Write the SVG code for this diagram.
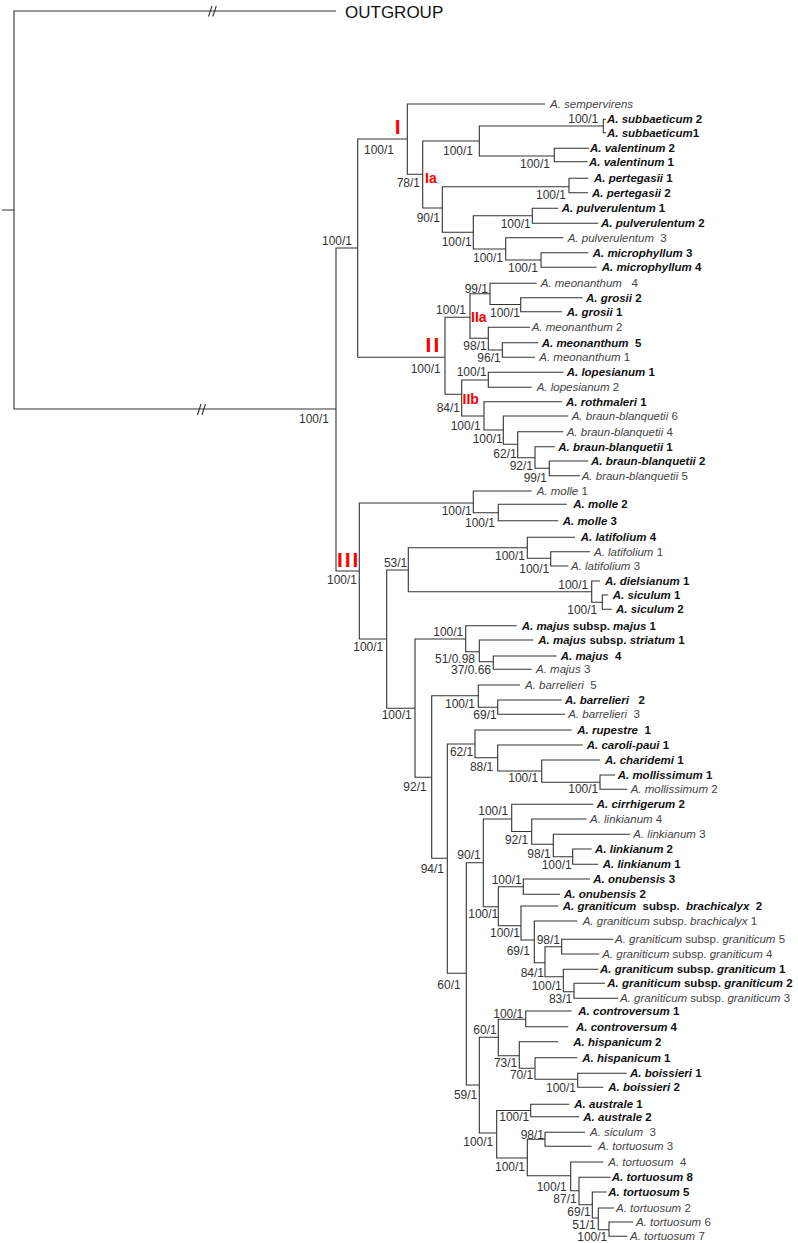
<svg xmlns="http://www.w3.org/2000/svg" width="798" height="1243" viewBox="0 0 798 1243">
<style>
text{font-family:"Liberation Sans",Arial,sans-serif;white-space:pre}
.r{font-size:11.5px;fill:#444}
.b{font-size:11.5px;fill:#111;font-weight:bold}
.i{font-style:italic}
.s{font-size:12px;fill:#333;text-anchor:end}
.red{fill:#ff0000;font-weight:bold}
.br{fill:none;stroke:#333;stroke-width:1.1}
</style>
<rect width="798" height="1243" fill="#fff"/>
<g id="connectors" class="br">
<path d="M2,210 H14 M336,11 H14 V409 H336"/>
<path d="M208.5,16.5 L212,6 M212.8,16.5 L216.3,6 M197.5,415 L201,404 M202,415 L205.5,404"/>
<path d="M357.7,248 H336 V571 H359.3"/>
<path d="M407.3,139 H357.7 V357.3 H445"/>
<path d="M545,104 H407.3 V174.3 H422.7"/>
<path d="M479.3,141 H422.7 V208 H442.3"/>
<path d="M603.3,126 H479.3 V156 H554.3"/>
<path d="M606,119.3 H603.3 V132.7 H606"/>
<path d="M589,148.3 H554.3 V161.7 H587.7"/>
<path d="M569,186.7 H442.3 V232.3 H473.3"/>
<path d="M588.3,178.3 H569 V192.7 H588"/>
<path d="M532.3,215.7 H473.3 V249 H505.7"/>
<path d="M558.3,208.3 H532.3 V223.3 H598.3"/>
<path d="M563.3,237.7 H505.7 V260 H541"/>
<path d="M588.3,252.7 H541 V267.3 H596.7"/>
<path d="M470,317.3 H445 V394.3 H461.7"/>
<path d="M490,293.8 H470 V338.3 H488.3"/>
<path d="M536.7,283.3 H490 V304.5 H520.7"/>
<path d="M582.7,297.7 H520.7 V311.7 H561.7"/>
<path d="M530,327.3 H488.3 V350 H502.3"/>
<path d="M538.3,342.7 H502.3 V357.3 H535"/>
<path d="M488.3,380 H461.7 V416 H484"/>
<path d="M563.3,372.3 H488.3 V387.3 H531.7"/>
<path d="M561.7,401.7 H484 V430 H503.3"/>
<path d="M568.3,416 H503.3 V444.3 H517.7"/>
<path d="M563.3,431.7 H517.7 V457.7 H535"/>
<path d="M555,446.7 H535 V468.3 H549.3"/>
<path d="M588.3,461 H549.3 V475.7 H580"/>
<path d="M473.3,503 H359.3 V639 H386.7"/>
<path d="M531.7,491 H473.3 V512.7 H498.3"/>
<path d="M566.7,504.3 H498.3 V520.7 H558.3"/>
<path d="M408.3,570 H386.7 V708.3 H415"/>
<path d="M527.3,547.7 H408.3 V591.7 H591.7"/>
<path d="M575,537.3 H527.3 V558.3 H550.7"/>
<path d="M590,551.7 H550.7 V566 H568.3"/>
<path d="M600,581 H591.7 V602.3 H602.3"/>
<path d="M608.3,595 H602.3 V609.3 H611.7"/>
<path d="M465.7,639 H415 V777.3 H431.7"/>
<path d="M516.7,625.7 H465.7 V651.7 H479.3"/>
<path d="M533.3,640 H479.3 V661.7 H493.3"/>
<path d="M556.7,656 H493.3 V669.3 H531.7"/>
<path d="M478.3,695.7 H431.7 V858.3 H447.3"/>
<path d="M520,685 H478.3 V707.3 H497.7"/>
<path d="M561.7,700 H497.7 V714.3 H565"/>
<path d="M475,744 H447.3 V973.3 H466.3"/>
<path d="M571.7,730 H475 V757.7 H497.7"/>
<path d="M582.7,745 H497.7 V771 H541.7"/>
<path d="M600,760 H541.7 V782.3 H600"/>
<path d="M615,775 H600 V789.3 H627.3"/>
<path d="M483.3,862.7 H466.3 V1085 H479.3"/>
<path d="M511.7,819 H483.3 V906.7 H498.3"/>
<path d="M593.3,804.3 H511.7 V831.5 H531.7"/>
<path d="M586.7,819 H531.7 V844.3 H553.3"/>
<path d="M630,834.3 H553.3 V856.7 H572.7"/>
<path d="M591.7,849 H572.7 V864.3 H598.3"/>
<path d="M523.3,886.7 H498.3 V925.7 H521"/>
<path d="M590,879 H523.3 V894.3 H560"/>
<path d="M558.3,906 H521 V940 H534.3"/>
<path d="M577.3,921 H534.3 V962.7 H545"/>
<path d="M561.7,946.7 H545 V976.7 H563.3"/>
<path d="M613.3,939.3 H561.7 V954 H599.3"/>
<path d="M598.3,969.3 H563.3 V991.7 H574"/>
<path d="M605,983.3 H574 V998.3 H618.3"/>
<path d="M498.3,1037.3 H479.3 V1133 H496.7"/>
<path d="M525.7,1019.3 H498.3 V1055.7 H519.3"/>
<path d="M571.7,1011 H525.7 V1026.7 H568.3"/>
<path d="M558.3,1041.7 H519.3 V1068.3 H535"/>
<path d="M577.3,1057.7 H535 V1079.3 H577.7"/>
<path d="M626.7,1073.3 H577.7 V1087.3 H603.3"/>
<path d="M530.7,1110.5 H496.7 V1158 H527.3"/>
<path d="M569.3,1104.3 H530.7 V1116.7 H579.3"/>
<path d="M545,1139.3 H527.3 V1175.7 H570.7"/>
<path d="M585,1132.3 H545 V1146.3 H591.7"/>
<path d="M603.3,1162 H570.7 V1190.7 H579"/>
<path d="M610.7,1177.3 H579 V1204.7 H592.3"/>
<path d="M606.7,1192 H592.3 V1218 H598.3"/>
<path d="M614,1208 H598.3 V1229.7 H609"/>
<path d="M633.3,1222 H609 V1236.3 H627.3"/>
</g>
<g id="outgroup"><text x="345" y="18.3" style="font-size:17px;fill:#111">OUTGROUP</text></g>
<g id="clade-labels" class="red">
<text x="394.7" y="134" style="font-size:21px">I</text>
<text x="425" y="183" style="font-size:14px">Ia</text>
<text x="425.4" y="351.7" style="font-size:21px;letter-spacing:2.3px">II</text>
<text x="471" y="321.7" style="font-size:14px">IIa</text>
<text x="462.5" y="404" style="font-size:14px">IIb</text>
<text x="337" y="566.7" style="font-size:21px;letter-spacing:1.9px">III</text>
</g>
<g id="support-values">
<text class="s" x="329" y="423.3">100/1</text>
<text class="s" x="352" y="245.3">100/1</text>
<text class="s" x="394" y="154.3">100/1</text>
<text class="s" x="420" y="187">78/1</text>
<text class="s" x="598.3" y="123">100/1</text>
<text class="s" x="473" y="155">100/1</text>
<text class="s" x="550" y="168.3">100/1</text>
<text class="s" x="566" y="199.3">100/1</text>
<text class="s" x="440" y="222">90/1</text>
<text class="s" x="471.7" y="246">100/1</text>
<text class="s" x="530.7" y="227.6">100/1</text>
<text class="s" x="503" y="262">100/1</text>
<text class="s" x="538" y="271.6">100/1</text>
<text class="s" x="488" y="292.6">99/1</text>
<text class="s" x="520" y="316.6">100/1</text>
<text class="s" x="466" y="314.3">100/1</text>
<text class="s" x="486.7" y="350">98/1</text>
<text class="s" x="500.7" y="361.6">96/1</text>
<text class="s" x="440.7" y="372.6">100/1</text>
<text class="s" x="486.7" y="376">100/1</text>
<text class="s" x="460" y="411.8">84/1</text>
<text class="s" x="480.7" y="430">100/1</text>
<text class="s" x="502.7" y="442.6">100/1</text>
<text class="s" x="516.7" y="457.6">62/1</text>
<text class="s" x="533" y="470">92/1</text>
<text class="s" x="547" y="482">99/1</text>
<text class="s" x="471.7" y="515.3">100/1</text>
<text class="s" x="495" y="526.6">100/1</text>
<text class="s" x="357" y="584.3">100/1</text>
<text class="s" x="407.3" y="567">53/1</text>
<text class="s" x="525" y="560.3">100/1</text>
<text class="s" x="549.3" y="572.6">100/1</text>
<text class="s" x="588.3" y="589.3">100/1</text>
<text class="s" x="597.3" y="613.6">100/1</text>
<text class="s" x="383.3" y="651">100/1</text>
<text class="s" x="463.3" y="636">100/1</text>
<text class="s" x="475" y="662.6">51/0.98</text>
<text class="s" x="491" y="674.3">37/0.66</text>
<text class="s" x="411.7" y="719.3">100/1</text>
<text class="s" x="475" y="707.6">100/1</text>
<text class="s" x="496.7" y="718.6">69/1</text>
<text class="s" x="426.7" y="791">92/1</text>
<text class="s" x="473.3" y="756">62/1</text>
<text class="s" x="493.3" y="771">88/1</text>
<text class="s" x="538.3" y="782">100/1</text>
<text class="s" x="598.3" y="792.6">100/1</text>
<text class="s" x="444" y="872.6">94/1</text>
<text class="s" x="508.3" y="815.3">100/1</text>
<text class="s" x="528.3" y="844.3">92/1</text>
<text class="s" x="550.7" y="857.6">98/1</text>
<text class="s" x="571.7" y="868.6">100/1</text>
<text class="s" x="480.7" y="858.6">90/1</text>
<text class="s" x="521.7" y="884.3">100/1</text>
<text class="s" x="498.3" y="917.6">100/1</text>
<text class="s" x="520" y="937.3">100/1</text>
<text class="s" x="530" y="955">69/1</text>
<text class="s" x="560" y="944.3">98/1</text>
<text class="s" x="544" y="977">84/1</text>
<text class="s" x="561.7" y="990.3">100/1</text>
<text class="s" x="572.3" y="1002.6">83/1</text>
<text class="s" x="460.7" y="988.6">60/1</text>
<text class="s" x="523.3" y="1017.6">100/1</text>
<text class="s" x="496.7" y="1034.3">60/1</text>
<text class="s" x="517.3" y="1067">73/1</text>
<text class="s" x="533.3" y="1079.3">70/1</text>
<text class="s" x="576" y="1091.6">100/1</text>
<text class="s" x="477.3" y="1099.3">59/1</text>
<text class="s" x="529.3" y="1121">100/1</text>
<text class="s" x="493.3" y="1146.3">100/1</text>
<text class="s" x="544" y="1138.6">98/1</text>
<text class="s" x="525" y="1170.6">100/1</text>
<text class="s" x="566.7" y="1190.6">100/1</text>
<text class="s" x="576.7" y="1203.3">87/1</text>
<text class="s" x="590.7" y="1216.3">69/1</text>
<text class="s" x="595.7" y="1229">51/1</text>
<text class="s" x="607.3" y="1240.6">100/1</text>
</g>
<g id="taxon-sempervirens"><text class="r" x="550" y="108"><tspan class="i">A. sempervirens</tspan></text></g>
<g id="taxon-subbaeticum-2"><text class="b" x="607" y="123.3"><tspan class="i">A. subbaeticum</tspan> 2</text></g>
<g id="taxon-subbaeticum-1"><text class="b" x="607" y="136.7"><tspan class="i">A. subbaeticum</tspan>1</text></g>
<g id="taxon-valentinum-2"><text class="b" x="590" y="152.3"><tspan class="i">A. valentinum</tspan> 2</text></g>
<g id="taxon-valentinum-1"><text class="b" x="589" y="165.7"><tspan class="i">A. valentinum</tspan> 1</text></g>
<g id="taxon-pertegasii-1"><text class="b" x="594" y="182.3"><tspan class="i">A. pertegasii</tspan> 1</text></g>
<g id="taxon-pertegasii-2"><text class="b" x="592" y="196.7"><tspan class="i">A. pertegasii</tspan> 2</text></g>
<g id="taxon-pulverulentum-1"><text class="b" x="561.7" y="212.3"><tspan class="i">A. pulverulentum</tspan> 1</text></g>
<g id="taxon-pulverulentum-2"><text class="b" x="601" y="227.3"><tspan class="i">A. pulverulentum</tspan> 2</text></g>
<g id="taxon-pulverulentum-3"><text class="r" x="567.7" y="241.7"><tspan class="i">A. pulverulentum</tspan>  3</text></g>
<g id="taxon-microphyllum-3"><text class="b" x="592.7" y="256.7"><tspan class="i">A. microphyllum</tspan> 3</text></g>
<g id="taxon-microphyllum-4"><text class="b" x="601.7" y="271.3"><tspan class="i">A. microphyllum</tspan> 4</text></g>
<g id="taxon-meonanthum-4"><text class="r" x="540.7" y="287.3"><tspan class="i">A. meonanthum</tspan>   4</text></g>
<g id="taxon-grosii-2"><text class="b" x="586" y="301.7"><tspan class="i">A. grosii</tspan> 2</text></g>
<g id="taxon-grosii-1"><text class="b" x="566.7" y="315.7"><tspan class="i">A. grosii</tspan> 1</text></g>
<g id="taxon-meonanthum-2"><text class="r" x="531.7" y="331.3"><tspan class="i">A. meonanthum</tspan> 2</text></g>
<g id="taxon-meonanthum-5"><text class="b" x="541.7" y="346.7"><tspan class="i">A. meonanthum</tspan>  5</text></g>
<g id="taxon-meonanthum-1"><text class="r" x="539.3" y="361.3"><tspan class="i">A. meonanthum</tspan> 1</text></g>
<g id="taxon-lopesianum-1"><text class="b" x="566.7" y="376.3"><tspan class="i">A. lopesianum</tspan> 1</text></g>
<g id="taxon-lopesianum-2"><text class="r" x="536.7" y="391.3"><tspan class="i">A. lopesianum</tspan> 2</text></g>
<g id="taxon-rothmaleri-1"><text class="b" x="566" y="405.7"><tspan class="i">A. rothmaleri</tspan> 1</text></g>
<g id="taxon-braun-blanquetii-6"><text class="r" x="571.7" y="420"><tspan class="i">A. braun-blanquetii</tspan> 6</text></g>
<g id="taxon-braun-blanquetii-4"><text class="r" x="566.7" y="435.7"><tspan class="i">A. braun-blanquetii</tspan> 4</text></g>
<g id="taxon-braun-blanquetii-1"><text class="b" x="558.3" y="450.7"><tspan class="i">A. braun-blanquetii</tspan> 1</text></g>
<g id="taxon-braun-blanquetii-2"><text class="b" x="591" y="465"><tspan class="i">A. braun-blanquetii</tspan> 2</text></g>
<g id="taxon-braun-blanquetii-5"><text class="r" x="581.7" y="479.7"><tspan class="i">A. braun-blanquetii</tspan> 5</text></g>
<g id="taxon-molle-1"><text class="r" x="536.7" y="495"><tspan class="i">A. molle</tspan> 1</text></g>
<g id="taxon-molle-2"><text class="b" x="573.3" y="508.3"><tspan class="i">A. molle</tspan> 2</text></g>
<g id="taxon-molle-3"><text class="b" x="562.7" y="524.7"><tspan class="i">A. molle</tspan> 3</text></g>
<g id="taxon-latifolium-4"><text class="b" x="580.7" y="541.3"><tspan class="i">A. latifolium</tspan> 4</text></g>
<g id="taxon-latifolium-1"><text class="r" x="594" y="555.7"><tspan class="i">A. latifolium</tspan> 1</text></g>
<g id="taxon-latifolium-3"><text class="r" x="571" y="570"><tspan class="i">A. latifolium</tspan> 3</text></g>
<g id="taxon-dielsianum-1"><text class="b" x="605" y="585"><tspan class="i">A. dielsianum</tspan> 1</text></g>
<g id="taxon-siculum-1"><text class="b" x="612.7" y="599"><tspan class="i">A. siculum</tspan> 1</text></g>
<g id="taxon-siculum-2"><text class="b" x="616" y="613.3"><tspan class="i">A. siculum</tspan> 2</text></g>
<g id="taxon-majus-majus-1"><text class="b" x="521.7" y="629.7"><tspan class="i">A. majus</tspan> subsp. <tspan class="i">majus</tspan> 1</text></g>
<g id="taxon-majus-striatum-1"><text class="b" x="538.3" y="644"><tspan class="i">A. majus</tspan> subsp. <tspan class="i">striatum</tspan> 1</text></g>
<g id="taxon-majus-4"><text class="b" x="560.7" y="660"><tspan class="i">A. majus</tspan>  4</text></g>
<g id="taxon-majus-3"><text class="r" x="536" y="673.3"><tspan class="i">A. majus</tspan> 3</text></g>
<g id="taxon-barrelieri-5"><text class="r" x="525" y="689"><tspan class="i">A. barrelieri</tspan>  5</text></g>
<g id="taxon-barrelieri-2"><text class="b" x="565" y="704"><tspan class="i">A. barrelieri</tspan>   2</text></g>
<g id="taxon-barrelieri-3"><text class="r" x="568.3" y="718.3"><tspan class="i">A. barrelieri</tspan>  3</text></g>
<g id="taxon-rupestre-1"><text class="b" x="577.3" y="734"><tspan class="i">A. rupestre</tspan>  1</text></g>
<g id="taxon-caroli-paui-1"><text class="b" x="586.7" y="749"><tspan class="i">A. caroli-paui</tspan> 1</text></g>
<g id="taxon-charidemi-1"><text class="b" x="605" y="764"><tspan class="i">A. charidemi</tspan> 1</text></g>
<g id="taxon-mollissimum-1"><text class="b" x="617.7" y="779"><tspan class="i">A. mollissimum</tspan> 1</text></g>
<g id="taxon-mollissimum-2"><text class="r" x="630.7" y="793.3"><tspan class="i">A. mollissimum</tspan> 2</text></g>
<g id="taxon-cirrhigerum-2"><text class="b" x="596.7" y="808.3"><tspan class="i">A. cirrhigerum</tspan> 2</text></g>
<g id="taxon-linkianum-4"><text class="r" x="590" y="823"><tspan class="i">A. linkianum</tspan> 4</text></g>
<g id="taxon-linkianum-3"><text class="r" x="633.3" y="838.3"><tspan class="i">A. linkianum</tspan> 3</text></g>
<g id="taxon-linkianum-2"><text class="b" x="595" y="853"><tspan class="i">A. linkianum</tspan> 2</text></g>
<g id="taxon-linkianum-1"><text class="b" x="602.7" y="868.3"><tspan class="i">A. linkianum</tspan> 1</text></g>
<g id="taxon-onubensis-3"><text class="b" x="593.3" y="883"><tspan class="i">A. onubensis</tspan> 3</text></g>
<g id="taxon-onubensis-2"><text class="b" x="564" y="898.3"><tspan class="i">A. onubensis</tspan> 2</text></g>
<g id="taxon-graniticum-brachicalyx-2"><text class="b" x="562.7" y="910"><tspan class="i">A. graniticum</tspan>  subsp.  <tspan class="i">brachicalyx</tspan>  2</text></g>
<g id="taxon-graniticum-brachicalyx-1"><text class="r" x="582.7" y="925"><tspan class="i">A. graniticum</tspan> subsp. <tspan class="i">brachicalyx</tspan> 1</text></g>
<g id="taxon-graniticum-graniticum-5"><text class="r" x="615" y="943.3"><tspan class="i">A. graniticum</tspan> subsp. <tspan class="i">graniticum</tspan> 5</text></g>
<g id="taxon-graniticum-graniticum-4"><text class="r" x="602.3" y="958"><tspan class="i">A. graniticum</tspan> subsp. <tspan class="i">graniticum</tspan> 4</text></g>
<g id="taxon-graniticum-graniticum-1"><text class="b" x="600" y="973.3"><tspan class="i">A. graniticum</tspan> subsp. <tspan class="i">graniticum</tspan> 1</text></g>
<g id="taxon-graniticum-graniticum-2"><text class="b" x="607.3" y="987.3"><tspan class="i">A. graniticum</tspan> subsp. <tspan class="i">graniticum</tspan> 2</text></g>
<g id="taxon-graniticum-graniticum-3"><text class="r" x="620" y="1002.3"><tspan class="i">A. graniticum</tspan> subsp. <tspan class="i">graniticum</tspan> 3</text></g>
<g id="taxon-controversum-1"><text class="b" x="578.3" y="1015"><tspan class="i">A. controversum</tspan> 1</text></g>
<g id="taxon-controversum-4"><text class="b" x="576" y="1030.7"><tspan class="i">A. controversum</tspan> 4</text></g>
<g id="taxon-hispanicum-2"><text class="b" x="573.3" y="1045.7"><tspan class="i">A. hispanicum</tspan> 2</text></g>
<g id="taxon-hispanicum-1"><text class="b" x="582.3" y="1061.7"><tspan class="i">A. hispanicum</tspan> 1</text></g>
<g id="taxon-boissieri-1"><text class="b" x="630" y="1077.3"><tspan class="i">A. boissieri</tspan> 1</text></g>
<g id="taxon-boissieri-2"><text class="b" x="608.3" y="1091.3"><tspan class="i">A. boissieri</tspan> 2</text></g>
<g id="taxon-australe-1"><text class="b" x="574.3" y="1108.3"><tspan class="i">A. australe</tspan> 1</text></g>
<g id="taxon-australe-2"><text class="b" x="583.3" y="1120.7"><tspan class="i">A. australe</tspan> 2</text></g>
<g id="taxon-siculum-3"><text class="r" x="590" y="1136.3"><tspan class="i">A. siculum</tspan>  3</text></g>
<g id="taxon-tortuosum-3"><text class="r" x="598.3" y="1150.3"><tspan class="i">A. tortuosum</tspan> 3</text></g>
<g id="taxon-tortuosum-4"><text class="r" x="608.3" y="1166"><tspan class="i">A. tortuosum</tspan>  4</text></g>
<g id="taxon-tortuosum-8"><text class="b" x="611.7" y="1181.3"><tspan class="i">A. tortuosum</tspan> 8</text></g>
<g id="taxon-tortuosum-5"><text class="b" x="608.3" y="1196"><tspan class="i">A. tortuosum</tspan> 5</text></g>
<g id="taxon-tortuosum-2"><text class="r" x="616" y="1212"><tspan class="i">A. tortuosum</tspan> 2</text></g>
<g id="taxon-tortuosum-6"><text class="r" x="636" y="1226"><tspan class="i">A. tortuosum</tspan> 6</text></g>
<g id="taxon-tortuosum-7"><text class="r" x="630" y="1240.3"><tspan class="i">A. tortuosum</tspan> 7</text></g>
</svg>
